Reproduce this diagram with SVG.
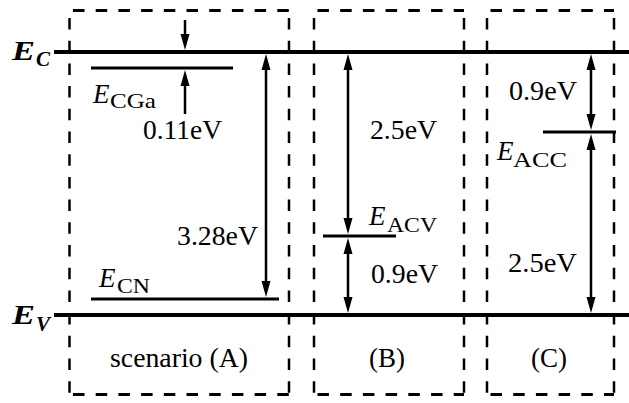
<svg xmlns="http://www.w3.org/2000/svg" width="629" height="403" viewBox="0 0 629 403">
<style>
.dh{stroke:#000;stroke-width:3;stroke-dasharray:11.5 11.2;stroke-dashoffset:19.2;fill:none}
.dv{stroke:#000;stroke-width:2.5;stroke-dasharray:11.5 11.2;stroke-dashoffset:15.2;fill:none}
.band{stroke:#000;stroke-width:4.2}
.lvl{stroke:#000;stroke-width:3}
.arr{stroke:#000;stroke-width:2.5;fill:none}
.t{font-family:"Liberation Serif","Times New Roman",serif;font-size:27px;fill:#000}
.e{font-family:"Liberation Serif","Times New Roman",serif;font-size:27px;font-style:italic;fill:#000}
.s{font-family:"Liberation Serif","Times New Roman",serif;font-size:21px;fill:#000}
.eb{font-family:"Liberation Serif","Times New Roman",serif;font-size:27px;font-style:italic;font-weight:bold;fill:#000}
.sb{font-family:"Liberation Serif","Times New Roman",serif;font-size:21px;font-style:italic;font-weight:bold;fill:#000}
</style>
<defs>
<marker id="ah" markerUnits="userSpaceOnUse" markerWidth="16" markerHeight="10" refX="8" refY="5" orient="auto-start-reverse">
<path d="M0,0.5 L16,5 L0,9.5 Z" fill="#000"/>
</marker>
</defs>

<g id="bands">
<line class="band" x1="54" y1="52" x2="629" y2="52"/>
<line class="band" x1="54" y1="315" x2="629" y2="315"/>
<text class="eb" x="12" y="60" textLength="23" lengthAdjust="spacingAndGlyphs">E</text>
<text class="sb" x="36" y="66">C</text>
<text class="eb" x="12" y="324" textLength="23" lengthAdjust="spacingAndGlyphs">E</text>
<text class="sb" x="36" y="331">V</text>
</g>

<g id="scenario-a">
<line class="dh" x1="69.5" y1="10.5" x2="289" y2="10.5"/>
<line class="dh" x1="69.5" y1="394.5" x2="289" y2="394.5"/>
<line class="dv" x1="69.5" y1="10.5" x2="69.5" y2="394.5"/>
<line class="dv" x1="289" y1="10.5" x2="289" y2="394.5"/>
<line class="lvl" x1="91" y1="68" x2="233" y2="68"/>
<line class="lvl" x1="91" y1="299" x2="279" y2="299"/>
<text class="e" x="93" y="103">E</text>
<text class="s" x="110" y="108" textLength="46" lengthAdjust="spacingAndGlyphs">CGa</text>
<text class="t" x="143" y="139" textLength="79" lengthAdjust="spacingAndGlyphs">0.11eV</text>
<text class="t" x="177" y="245" textLength="81" lengthAdjust="spacingAndGlyphs">3.28eV</text>
<text class="e" x="99" y="287">E</text>
<text class="s" x="117" y="293" textLength="33" lengthAdjust="spacingAndGlyphs">CN</text>
<text class="t" x="110" y="367" textLength="138" lengthAdjust="spacingAndGlyphs">scenario (A)</text>
</g>

<g id="scenario-b">
<line class="dh" x1="314" y1="10.5" x2="464" y2="10.5"/>
<line class="dh" x1="314" y1="394.5" x2="464" y2="394.5"/>
<line class="dv" x1="314" y1="10.5" x2="314" y2="394.5"/>
<line class="dv" x1="464" y1="10.5" x2="464" y2="394.5"/>
<line class="lvl" x1="323" y1="236" x2="396" y2="236"/>
<text class="t" x="370" y="139" textLength="67" lengthAdjust="spacingAndGlyphs">2.5eV</text>
<text class="e" x="369" y="225">E</text>
<text class="s" x="387" y="232" textLength="50" lengthAdjust="spacingAndGlyphs">ACV</text>
<text class="t" x="371" y="283" textLength="67" lengthAdjust="spacingAndGlyphs">0.9eV</text>
<text class="t" x="369" y="367">(B)</text>
</g>

<g id="scenario-c">
<line class="dh" x1="487" y1="10.5" x2="614" y2="10.5"/>
<line class="dh" x1="487" y1="394.5" x2="614" y2="394.5"/>
<line class="dv" x1="487" y1="10.5" x2="487" y2="394.5"/>
<line class="dv" x1="614" y1="10.5" x2="614" y2="394.5"/>
<line class="lvl" x1="543" y1="132" x2="616" y2="132"/>
<text class="t" x="509" y="100" textLength="68" lengthAdjust="spacingAndGlyphs">0.9eV</text>
<text class="e" x="497" y="160">E</text>
<text class="s" x="513" y="167" textLength="54" lengthAdjust="spacingAndGlyphs">ACC</text>
<text class="t" x="508" y="272" textLength="69" lengthAdjust="spacingAndGlyphs">2.5eV</text>
<text class="t" x="531" y="367">(C)</text>
</g>

<g id="connectors">
<line class="arr" x1="185" y1="20" x2="185" y2="42" marker-end="url(#ah)"/>
<line class="arr" x1="185" y1="114" x2="185" y2="78" marker-end="url(#ah)"/>
<line class="arr" x1="266" y1="62" x2="266" y2="289" marker-start="url(#ah)" marker-end="url(#ah)"/>
<line class="arr" x1="348" y1="62" x2="348" y2="226" marker-start="url(#ah)" marker-end="url(#ah)"/>
<line class="arr" x1="348" y1="246" x2="348" y2="305" marker-start="url(#ah)" marker-end="url(#ah)"/>
<line class="arr" x1="591" y1="62" x2="591" y2="122" marker-start="url(#ah)" marker-end="url(#ah)"/>
<line class="arr" x1="591" y1="142" x2="591" y2="305" marker-start="url(#ah)" marker-end="url(#ah)"/>
</g>
</svg>
